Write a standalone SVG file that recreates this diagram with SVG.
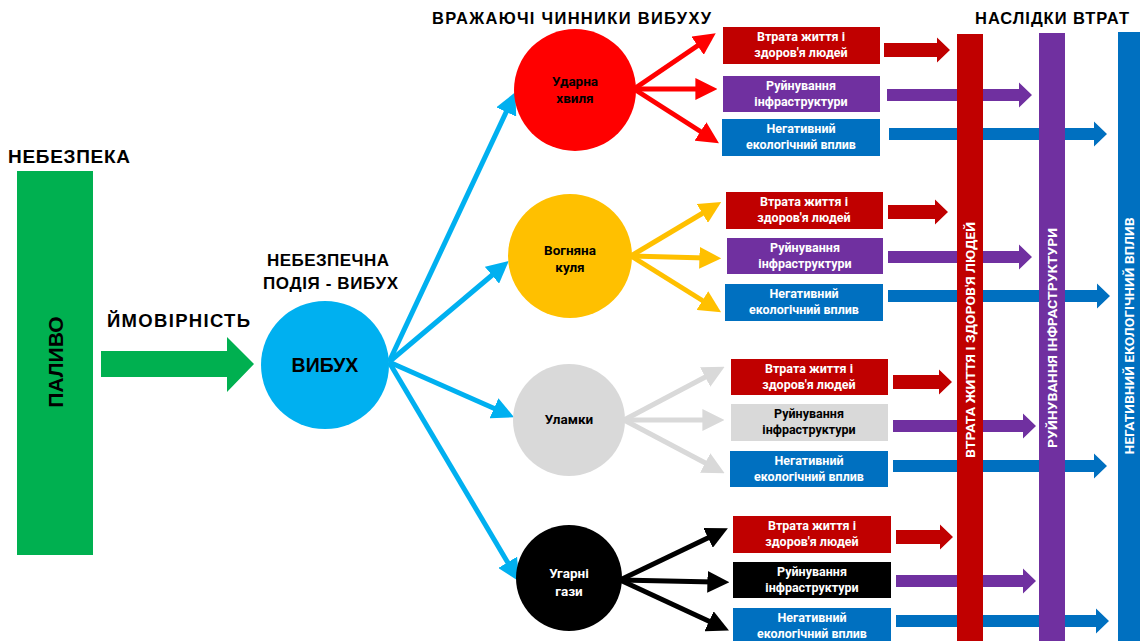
<svg xmlns="http://www.w3.org/2000/svg" width="1140" height="641" viewBox="0 0 1140 641">
<style>
text{font-family:Roboto,"Liberation Sans",Arial,sans-serif;font-weight:700}
.t{fill:#000;font-size:17px;font-family:"Liberation Sans",Arial,sans-serif}
.c{font-size:13.5px;text-anchor:middle}
.b{font-size:12.5px;text-anchor:middle;fill:#fff}
.v{font-size:13px;text-anchor:middle;fill:#fff}
.ln{fill:none;stroke-width:5}
.lb{stroke:#00B0F0}
.lr{stroke:#FF0000}
.ly{stroke:#FFC000}
.lg{stroke:#D9D9D9}
.lk{stroke:#000}
.ar{fill:#C00000}
.ap{fill:#7030A0}
.ab{fill:#0070C0}
</style>
<defs>
<marker id="mb" viewBox="0 0 10 10" refX="3" refY="5" markerWidth="4.4" markerHeight="4.4" orient="auto"><path d="M0,0 L10,5 L0,10 z" fill="#00B0F0"/></marker>
<marker id="mr" viewBox="0 0 10 10" refX="3" refY="5" markerWidth="4.4" markerHeight="4.4" orient="auto"><path d="M0,0 L10,5 L0,10 z" fill="#FF0000"/></marker>
<marker id="my" viewBox="0 0 10 10" refX="3" refY="5" markerWidth="4.4" markerHeight="4.4" orient="auto"><path d="M0,0 L10,5 L0,10 z" fill="#FFC000"/></marker>
<marker id="mg" viewBox="0 0 10 10" refX="3" refY="5" markerWidth="4.4" markerHeight="4.4" orient="auto"><path d="M0,0 L10,5 L0,10 z" fill="#D9D9D9"/></marker>
<marker id="mk" viewBox="0 0 10 10" refX="3" refY="5" markerWidth="4.4" markerHeight="4.4" orient="auto"><path d="M0,0 L10,5 L0,10 z" fill="#000"/></marker>
</defs>
<rect width="1140" height="641" fill="#fff"/>

<g id="titles">
<text class="t" x="8" y="163" style="font-size:19px" textLength="122">НЕБЕЗПЕКА</text>
<text class="t" x="107" y="327" style="font-size:18.5px" textLength="143">ЙМОВІРНІСТЬ</text>
<text class="t" x="267" y="266" textLength="122">НЕБЕЗПЕЧНА</text>
<text class="t" x="263" y="289" textLength="135">ПОДІЯ - ВИБУХ</text>
<text class="t" x="432" y="24" style="font-size:16.5px" textLength="279">ВРАЖАЮЧІ ЧИННИКИ ВИБУХУ</text>
<text class="t" x="975" y="24" style="font-size:16.5px" textLength="154">НАСЛІДКИ ВТРАТ</text>
</g>

<g id="connectors">
<polygon points="101,351 227,351 227,337 254,364 227,392 227,377 101,377" fill="#00B050"/>
<line class="ln lb" x1="389" y1="362" x2="509" y2="106" marker-end="url(#mb)"/>
<line class="ln lb" x1="389" y1="362" x2="497" y2="271" marker-end="url(#mb)"/>
<line class="ln lb" x1="389" y1="362" x2="500" y2="411" marker-end="url(#mb)"/>
<line class="ln lb" x1="389" y1="362" x2="511" y2="568" marker-end="url(#mb)"/>

<line class="ln lr" x1="634" y1="89" x2="703" y2="42" marker-end="url(#mr)"/>
<line class="ln lr" x1="634" y1="89" x2="702" y2="89" marker-end="url(#mr)"/>
<line class="ln lr" x1="634" y1="89" x2="706" y2="135" marker-end="url(#mr)"/>

<line class="ln ly" x1="631" y1="256" x2="708" y2="210" marker-end="url(#my)"/>
<line class="ln ly" x1="631" y1="256" x2="706" y2="258" marker-end="url(#my)"/>
<line class="ln ly" x1="631" y1="256" x2="708" y2="304" marker-end="url(#my)"/>

<line class="ln lg" x1="624" y1="420" x2="711" y2="374" marker-end="url(#mg)"/>
<line class="ln lg" x1="624" y1="420" x2="709" y2="420" marker-end="url(#mg)"/>
<line class="ln lg" x1="624" y1="420" x2="711" y2="466" marker-end="url(#mg)"/>

<line class="ln lk" x1="620" y1="580" x2="714" y2="535" marker-end="url(#mk)"/>
<line class="ln lk" x1="620" y1="580" x2="714" y2="582" marker-end="url(#mk)"/>
<line class="ln lk" x1="620" y1="580" x2="715" y2="624" marker-end="url(#mk)"/>

<polygon class="ar" points="884,43 937,43 937,37.5 950,50 937,62.5 937,57 884,57"/>
<polygon class="ap" points="887,89 1019,89 1019,82.5 1032,95 1019,107.5 1019,101 887,101"/>
<polygon class="ab" points="889,128 1094,128 1094,121.5 1107,134 1094,146.5 1094,140 889,140"/>

<polygon class="ar" points="888,205 935,205 935,199.5 948,212 935,224.5 935,219 888,219"/>
<polygon class="ap" points="888,251 1019,251 1019,244.5 1032,257 1019,269.5 1019,263 888,263"/>
<polygon class="ab" points="888,290 1097,290 1097,283.5 1110,296 1097,308.5 1097,302 888,302"/>

<polygon class="ar" points="893,375 939,375 939,369.5 952,382 939,394.5 939,389 893,389"/>
<polygon class="ap" points="893,420 1023,420 1023,413.5 1036,426 1023,438.5 1023,432 893,432"/>
<polygon class="ab" points="893,460 1094,460 1094,453.5 1107,466 1094,478.5 1094,472 893,472"/>

<polygon class="ar" points="896,530 940,530 940,524.5 953,537 940,549.5 940,544 896,544"/>
<polygon class="ap" points="896,575 1023,575 1023,568.5 1036,581 1023,593.5 1023,587 896,587"/>
<polygon class="ab" points="896,615 1096,615 1096,608.5 1109,621 1096,633.5 1096,627 896,627"/>
</g>

<g id="fuel">
<rect x="17" y="171" width="76" height="384" fill="#00B050"/>
<text transform="translate(63,362) rotate(-90)" text-anchor="middle" style="font-size:21px;font-family:'Liberation Sans',Arial,sans-serif">ПАЛИВО</text>
</g>

<g id="explosion">
<circle cx="325" cy="365" r="64" fill="#00B0F0"/>
<text x="325" y="372" text-anchor="middle" style="font-size:19.5px;font-family:'Liberation Sans',Arial,sans-serif">ВИБУХ</text>
</g>

<g id="shockwave">
<circle cx="575" cy="90" r="61" fill="#FF0000"/>
<text class="c" x="575" y="86">Ударна</text>
<text class="c" x="575" y="103">хвиля</text>
</g>
<g id="fireball">
<circle cx="570" cy="256" r="62" fill="#FFC000"/>
<text class="c" x="570" y="255">Вогняна</text>
<text class="c" x="570" y="272">куля</text>
</g>
<g id="debris">
<circle cx="569" cy="420" r="56" fill="#D9D9D9"/>
<text class="c" x="569" y="424">Уламки</text>
</g>
<g id="gases">
<circle cx="569" cy="578" r="53" fill="#000"/>
<text class="c" x="569" y="578" fill="#fff">Угарні</text>
<text class="c" x="569" y="596" fill="#fff">гази</text>
</g>

<g id="sw-life"><rect x="723" y="27" width="157" height="37" fill="#C00000"/><text class="b" x="801" y="41">Втрата життя і</text><text class="b" x="801" y="57">здоров'я людей</text></g>
<g id="sw-infra"><rect x="723" y="76" width="157" height="36" fill="#7030A0"/><text class="b" x="801" y="90">Руйнування</text><text class="b" x="801" y="106">інфраструктури</text></g>
<g id="sw-eco"><rect x="722" y="119" width="158" height="37" fill="#0070C0"/><text class="b" x="801" y="133">Негативний</text><text class="b" x="801" y="149">екологічний вплив</text></g>

<g id="fb-life"><rect x="726" y="192" width="157" height="37" fill="#C00000"/><text class="b" x="804" y="206">Втрата життя і</text><text class="b" x="804" y="222">здоров'я людей</text></g>
<g id="fb-infra"><rect x="727" y="238" width="156" height="36" fill="#7030A0"/><text class="b" x="805" y="252">Руйнування</text><text class="b" x="805" y="268">інфраструктури</text></g>
<g id="fb-eco"><rect x="725" y="284" width="158" height="37" fill="#0070C0"/><text class="b" x="804" y="298">Негативний</text><text class="b" x="804" y="314">екологічний вплив</text></g>

<g id="db-life"><rect x="731" y="359" width="157" height="36" fill="#C00000"/><text class="b" x="809" y="373">Втрата життя і</text><text class="b" x="809" y="389">здоров'я людей</text></g>
<g id="db-infra"><rect x="731" y="404" width="157" height="37" fill="#D9D9D9"/><text class="b" x="809" y="418" style="fill:#000">Руйнування</text><text class="b" x="809" y="434" style="fill:#000">інфраструктури</text></g>
<g id="db-eco"><rect x="730" y="451" width="158" height="36" fill="#0070C0"/><text class="b" x="809" y="465">Негативний</text><text class="b" x="809" y="481">екологічний вплив</text></g>

<g id="gs-life"><rect x="733" y="516" width="158" height="37" fill="#C00000"/><text class="b" x="812" y="530">Втрата життя і</text><text class="b" x="812" y="546">здоров'я людей</text></g>
<g id="gs-infra"><rect x="733" y="562" width="158" height="36" fill="#000"/><text class="b" x="812" y="576">Руйнування</text><text class="b" x="812" y="592">інфраструктури</text></g>
<g id="gs-eco"><rect x="733" y="608" width="158" height="37" fill="#0070C0"/><text class="b" x="812" y="622">Негативний</text><text class="b" x="812" y="638">екологічний вплив</text></g>

<g id="loss-life">
<rect x="957" y="34" width="26" height="607" fill="#C00000"/>
<text class="v" transform="translate(975,340) rotate(-90)" textLength="236" lengthAdjust="spacingAndGlyphs">ВТРАТА ЖИТТЯ І ЗДОРОВ'Я ЛЮДЕЙ</text>
</g>
<g id="loss-infra">
<rect x="1039" y="33" width="26" height="608" fill="#7030A0"/>
<text class="v" transform="translate(1057,338) rotate(-90)" textLength="220" lengthAdjust="spacingAndGlyphs">РУЙНУВАННЯ ІНФРАСТРУКТУРИ</text>
</g>
<g id="loss-eco">
<rect x="1118" y="32" width="26" height="609" fill="#0070C0"/>
<text class="v" transform="translate(1134,336) rotate(-90)" textLength="237" lengthAdjust="spacingAndGlyphs">НЕГАТИВНИЙ ЕКОЛОГІЧНИЙ ВПЛИВ</text>
</g>
</svg>
